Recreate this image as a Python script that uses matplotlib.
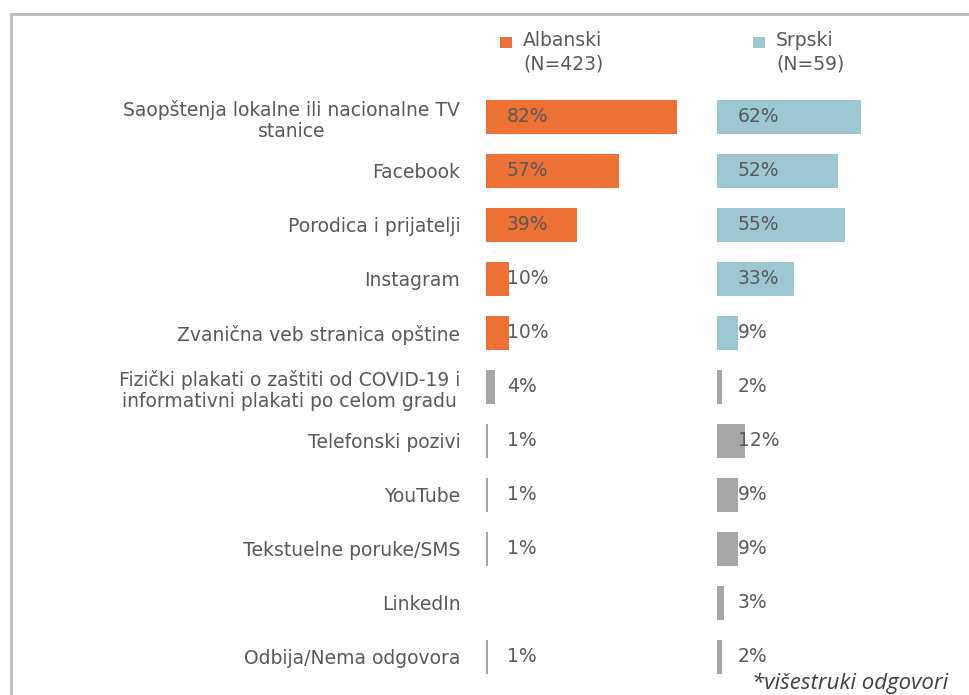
import numpy as np
import matplotlib
matplotlib.use("Agg")
import matplotlib.pyplot as plt
from matplotlib.patches import Rectangle
from matplotlib.lines import Line2D

categories = [
    "Saopštenja lokalne ili nacionalne TV\nstanice",
    "Facebook",
    "Porodica i prijatelji",
    "Instagram",
    "Zvanična veb stranica opštine",
    "Fizički plakati o zaštiti od COVID-19 i\ninformativni plakati po celom gradu",
    "Telefonski pozivi",
    "YouTube",
    "Tekstuelne poruke/SMS",
    "LinkedIn",
    "Odbija/Nema odgovora",
]
albanski = [82, 57, 39, 10, 10, 4, 1, 1, 1, np.nan, 1]
srpski = [62, 52, 55, 33, 9, 2, 12, 9, 9, 3, 2]
series_names = ["Albanski\n(N=423)", "Srpski\n(N=59)"]

ORANGE = "#ED7034"
BLUE = "#9DC8D1"
GREY = "#A6A6A6"
TXT = "#595959"
FS = 13.5

W, H = 970, 695
fig = plt.figure(figsize=(W / 100, H / 100), dpi=100)

def fx(px):
    return px / W

def fy(py):
    return 1 - py / H

top_px, bot_px = 90, 684
px_per_unit = 2.33
left_start, right_start = 486, 717
ax1 = fig.add_axes([fx(left_start), fy(bot_px), 224 / W, (bot_px - top_px) / H])
ax2 = fig.add_axes([fx(right_start), fy(bot_px), 240 / W, (bot_px - top_px) / H])
ax1.set_xlim(0, 224 / px_per_unit)
ax2.set_xlim(0, 240 / px_per_unit)

n = len(categories)
y = np.arange(n)
n_colored = 5

for ax, vals, col in [(ax1, albanski, ORANGE), (ax2, srpski, BLUE)]:
    colors = [col if i < n_colored else GREY for i in range(n)]
    v = np.array(vals, dtype=float)
    mask = ~np.isnan(v)
    ax.barh(y[mask], v[mask], height=0.63, color=[c for c, m in zip(colors, mask) if m])
    for i in range(n):
        if mask[i]:
            ax.text(9, y[i], f"{int(v[i])}%", ha="left", va="center",
                    fontsize=FS, color=TXT, family="DejaVu Sans")
    ax.set_ylim(n - 0.5, -0.5)
    for s in ax.spines.values():
        s.set_visible(False)
    ax.set_xticks([])
    ax.set_yticks([])
    ax.patch.set_alpha(0)

ax1.set_yticks(y)
ax1.set_yticklabels(categories, fontsize=FS, color=TXT, linespacing=1.15)
ax1.tick_params(axis="y", length=0, pad=18.5)
for lab in ax1.get_yticklabels():
    lab.set_multialignment("center")

# legend
for (sx, tx, name, col) in [(500, 523, series_names[0], ORANGE), (753, 776, series_names[1], BLUE)]:
    fig.patches.append(Rectangle((fx(sx), fy(48)), 12 / W, 11 / H, transform=fig.transFigure,
                                 facecolor=col, edgecolor="none"))
    fig.text(fx(tx), fy(31), name, ha="left", va="top", fontsize=FS, color=TXT,
             linespacing=1.3)

# footnote
fig.text(fx(948), fy(683), "*višestruki odgovori", ha="right", va="center",
         fontsize=16, style="italic", color="#404040", family="Open Sans")

# frame
fig.lines.append(Line2D([fx(11), 1], [fy(14), fy(14)], transform=fig.transFigure,
                        color="#BFBFBF", lw=2.2))
fig.lines.append(Line2D([fx(11), fx(11)], [fy(14), 0], transform=fig.transFigure,
                        color="#BFBFBF", lw=2.2))

fig.savefig("out.png", dpi=100)
